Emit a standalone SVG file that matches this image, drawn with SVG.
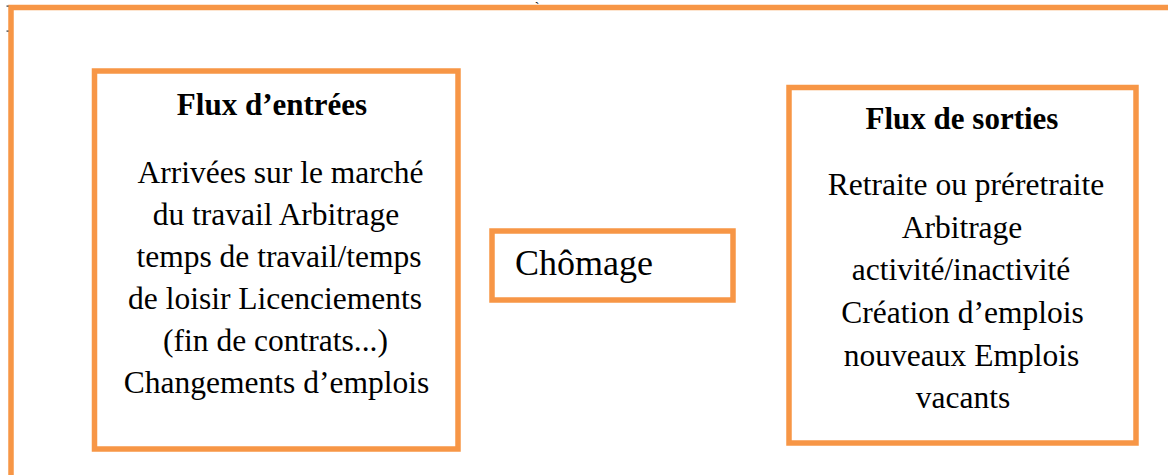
<svg xmlns="http://www.w3.org/2000/svg" width="1168" height="475" viewBox="0 0 1168 475">
<style>
.box{fill:#fff;stroke:#F79646;stroke-width:5.5}
.t{font-family:"Liberation Serif","Times New Roman",serif;fill:#000;text-anchor:middle}
.h{font-size:31px;font-weight:bold}
.b{font-size:31.5px}
</style>
<rect width="1168" height="475" fill="#fff"/>
<g id="frame">
<text x="537" y="12" font-family="Liberation Serif,serif" font-size="14" text-anchor="middle">`</text>
<path d="M11,475 V7.5 H1168" fill="none" stroke="#F79646" stroke-width="5.5"/>
<rect x="6.5" y="5.5" width="2" height="1.2" fill="#333"/>
<rect x="6.5" y="30.5" width="2" height="1.2" fill="#333"/>
</g>
<g id="entrees">
<rect class="box" x="94.5" y="71" width="363.5" height="378"/>
<text class="t h" x="272" y="115">Flux d’entrées</text>
<text class="t b" x="280.5" y="183">Arrivées sur le marché</text>
<text class="t b" x="276" y="225">du travail Arbitrage</text>
<text class="t b" x="279" y="267">temps de travail/temps</text>
<text class="t b" x="275" y="309">de loisir Licenciements</text>
<text class="t b" x="275.5" y="351">(fin de contrats...)</text>
<text class="t b" x="276.5" y="393">Changements d’emplois</text>
</g>
<g id="chomage">
<rect class="box" x="492" y="231" width="241" height="69"/>
<text x="515" y="275" font-family="Liberation Serif,serif" font-size="36">Chômage</text>
</g>
<g id="sorties">
<rect class="box" x="789" y="87.5" width="347" height="355.5"/>
<text class="t h" x="962" y="129">Flux de sorties</text>
<text class="t b" x="966" y="195">Retraite ou préretraite</text>
<text class="t b" x="962" y="238">Arbitrage</text>
<text class="t b" x="961" y="280">activité/inactivité</text>
<text class="t b" x="962.5" y="323">Création d’emplois</text>
<text class="t b" x="961.5" y="366">nouveaux Emplois</text>
<text class="t b" x="963" y="408">vacants</text>
</g>
<g id="connectors"></g>
</svg>
